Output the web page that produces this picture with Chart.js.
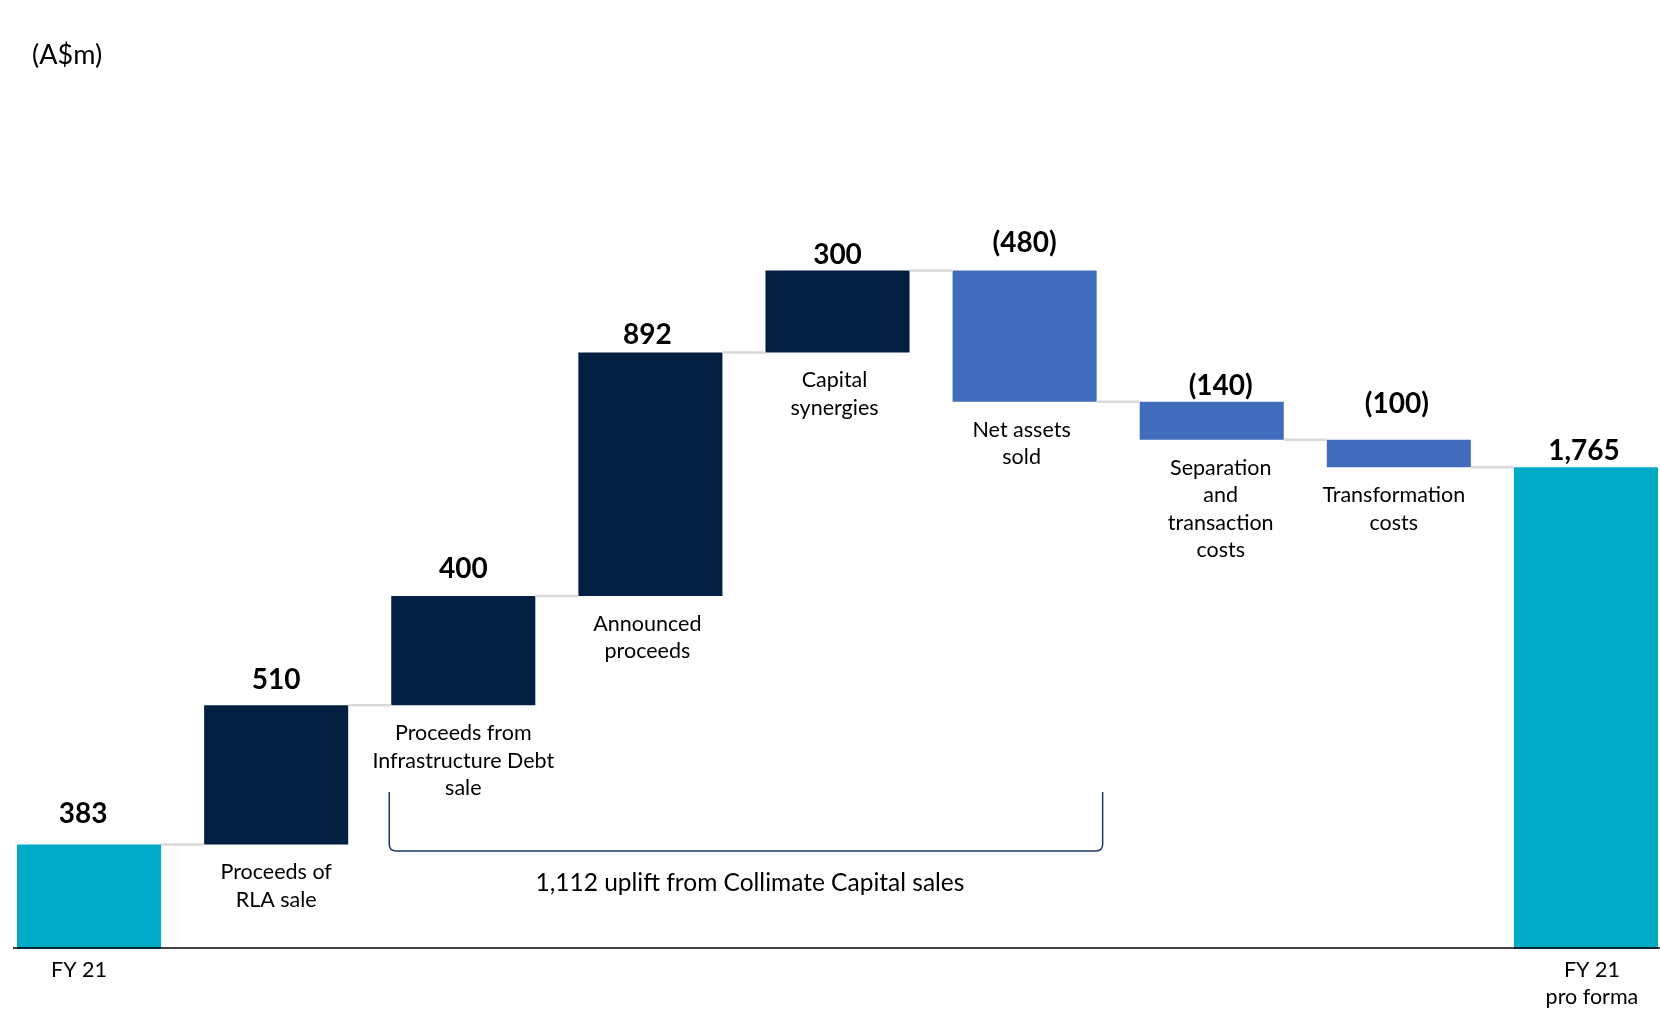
<!DOCTYPE html>
<html>
<head>
<meta charset="utf-8">
<title>Waterfall</title>
<script src="https://cdn.jsdelivr.net/npm/chart.js@4/dist/chart.umd.min.js"></script>
<style>
  html, body { margin: 0; padding: 0; background: #fff; overflow: hidden; }
  #wrap { position: relative; width: 1660px; height: 1011px; overflow: hidden; }
  #chart { position: absolute; left: -20px; top: 0; }
  #unit { position: absolute; left: 32px; top: 37px; font: 27px Lato, sans-serif; color: #000; }
</style>
</head>
<body>
<div id="wrap">
  <canvas id="chart" width="1720" height="1011"></canvas>
  <div id="unit">(A$m)</div>
</div>
<script>
// --- Data ---
const CATEGORIES = [
  ["FY 21"],
  ["Proceeds of", "RLA sale"],
  ["Proceeds from", "Infrastructure Debt", "sale"],
  ["Announced", "proceeds"],
  ["Capital", "synergies"],
  ["Net assets", "sold"],
  ["Separation", "and", "transaction", "costs"],
  ["Transformation", "costs"],
  ["FY 21", "pro forma"]
];
const CHANGES = [383, 510, 400, 892, 300, -480, -140, -100, 1765];
const IS_TOTAL = [true, false, false, false, false, false, false, false, true];
const VALUE_LABELS = ["383", "510", "400", "892", "300", "(480)", "(140)", "(100)", "1,765"];
const BRACKET_TEXT = "1,112 uplift from Collimate Capital sales";

// --- Styles ---
const TEAL = "#00ABC8";
const NAVY = "#021E41";
const BLUE = "#416CBB";
const CONNECTOR = "#D9D9D9";
const FONT = "Lato, 'Open Sans', sans-serif";
// nudges for the text around each bar (px)
const VALUE_LIFT = [30, 25, 27, 18, 16, 28, 16, 36, 16];
const VALUE_DX = [-6, 0, 0, -3, 0, 0, 9, -2, -2];
const CAT_DX = [-10, 0, 0, -3, -3, -3, 9, -5, 6];

// floating ranges for the waterfall
let running = 0;
const ranges = CHANGES.map((v, i) => {
  if (IS_TOTAL[i]) { running = v; return [0, v]; }
  const r = [running, running + v];
  running += v;
  return r;
});
const colors = CHANGES.map((v, i) => IS_TOTAL[i] ? TEAL : (v >= 0 ? NAVY : BLUE));

const decorations = {
  id: "decorations",
  afterDatasetsDraw(chart) {
    const ctx = chart.ctx;
    const bars = chart.getDatasetMeta(0).data;
    const y = chart.scales.y;
    const axisY = y.getPixelForValue(0);

    ctx.save();

    // connectors between bars
    ctx.strokeStyle = CONNECTOR;
    ctx.lineWidth = 2.5;
    for (let i = 0; i < bars.length - 1; i++) {
      const a = bars[i], b = bars[i + 1];
      const level = y.getPixelForValue(ranges[i][1]);
      ctx.beginPath();
      ctx.moveTo(a.x + a.width / 2, level);
      ctx.lineTo(b.x - b.width / 2, level);
      ctx.stroke();
    }

    // x axis line
    ctx.strokeStyle = "#000";
    ctx.lineWidth = 1.6;
    ctx.beginPath();
    ctx.moveTo(33, axisY - 1);
    ctx.lineTo(chart.width, axisY - 1);
    ctx.stroke();

    // value labels
    ctx.fillStyle = "#000";
    ctx.textAlign = "center";
    ctx.textBaseline = "middle";
    ctx.font = "bold 28px " + FONT;
    bars.forEach((bar, i) => {
      const top = Math.min(bar.y, bar.base);
      ctx.fillText(VALUE_LABELS[i], bar.x + VALUE_DX[i], top - VALUE_LIFT[i]);
    });

    // category labels
    ctx.font = "21.5px " + FONT;
    bars.forEach((bar, i) => {
      const bottom = IS_TOTAL[i] ? axisY + 21 : Math.max(bar.y, bar.base) + 28;
      CATEGORIES[i].forEach((line, j) => {
        ctx.fillText(line, bar.x + CAT_DX[i], bottom + j * 27.5);
      });
    });

    // bracket under the Collimate bars
    const left = bars[2].x - bars[2].width / 2 - 2;
    const right = bars[5].x + bars[5].width / 2 + 6;
    const top = axisY - 157;
    const bot = axisY - 98;
    const r = 7;
    ctx.strokeStyle = "#1F3864";
    ctx.lineWidth = 1.5;
    ctx.beginPath();
    ctx.moveTo(left, top);
    ctx.lineTo(left, bot - r);
    ctx.quadraticCurveTo(left, bot, left + r, bot);
    ctx.lineTo(right - r, bot);
    ctx.quadraticCurveTo(right, bot, right, bot - r);
    ctx.lineTo(right, top);
    ctx.stroke();

    ctx.font = "24.5px " + FONT;
    ctx.fillText(BRACKET_TEXT, (left + right) / 2 + 4, axisY - 66);

    ctx.restore();
  }
};

new Chart(document.getElementById("chart"), {
  type: "bar",
  data: {
    labels: CATEGORIES.map(c => c.join(" ")),
    datasets: [{
      data: ranges,
      backgroundColor: colors,
      borderWidth: 0,
      categoryPercentage: 1,
      barPercentage: 0.77
    }]
  },
  options: {
    responsive: false,
    animation: false,
    layout: { padding: { left: 15.5, right: 20.5, top: 130, bottom: 62 } },
    plugins: { legend: { display: false }, tooltip: { enabled: false } },
    scales: {
      x: { display: false },
      y: { display: false, min: 0, max: 3000 }
    }
  },
  plugins: [decorations]
});
</script>
</body>
</html>
